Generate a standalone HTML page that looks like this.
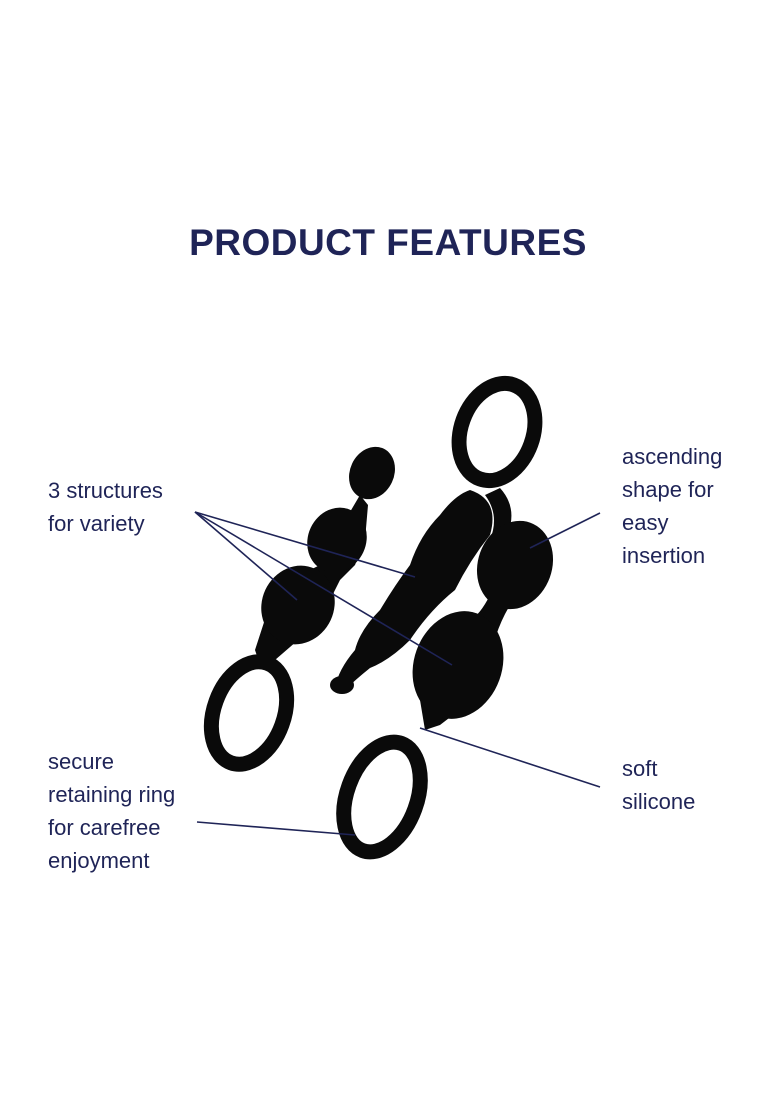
<!DOCTYPE html>
<html><head><meta charset="utf-8"><style>
html,body{margin:0;padding:0;background:#fff;}
body{width:776px;height:1102px;position:relative;overflow:hidden;font-family:"Liberation Sans",sans-serif;}
.t{position:absolute;left:0;width:776px;top:222px;text-align:center;font-weight:bold;font-size:37px;color:#1f2457;letter-spacing:0.5px;}
.l{position:absolute;font-size:22px;line-height:33px;color:#1f2457;}
svg{position:absolute;left:0;top:0;}
</style></head><body>
<div class="t">PRODUCT FEATURES</div>
<svg width="776" height="1102" viewBox="0 0 776 1102">
<g fill="#0a0a0a">
 <!-- left beaded plug -->
 <ellipse cx="372" cy="473" rx="22" ry="27" transform="rotate(25 372 473)"/>
 <path d="M360 495 L350 512 L340 515 L325 545 L320 565 L300 575 L268 610 L255 650 L260 665 L275 660 L312 628 L330 600 L340 580 L355 565 L365 540 L368 505 Z"/>
 <ellipse cx="337" cy="540" rx="29" ry="33" transform="rotate(25 337 540)"/>
 <ellipse cx="298" cy="605" rx="36" ry="40" transform="rotate(25 298 605)"/>
 <!-- middle twisted -->
 <path d="M470 490 Q500 500 490 535 Q470 560 455 590 Q430 610 410 640 Q390 660 370 668 Q355 680 345 690 L335 688 Q338 670 355 650 Q360 630 380 610 Q395 585 410 565 Q420 535 440 515 Q455 495 470 490 Z"/>
 <path d="M500 488 Q520 510 505 540 L490 540 Q500 515 485 495 Z"/>
 <ellipse cx="342" cy="685" rx="12" ry="9"/>
 <!-- right plug -->
 <ellipse cx="515" cy="565" rx="37" ry="45" transform="rotate(20 515 565)"/>
 <path d="M490 595 Q480 615 470 620 L440 640 Q420 670 420 700 L425 730 L440 725 Q475 700 490 660 Q495 630 510 605 Z"/>
 <ellipse cx="458" cy="665" rx="44" ry="55" transform="rotate(20 458 665)"/>
</g>
<g fill="none" stroke="#0a0a0a" stroke-width="15">
 <ellipse cx="249" cy="713" rx="35" ry="53" transform="rotate(20 249 713)"/>
 <ellipse cx="497" cy="432" rx="36" ry="50" transform="rotate(20 497 432)"/>
 <ellipse cx="382" cy="797" rx="35" ry="57" transform="rotate(20 382 797)"/>
</g>
<g stroke="#1f2457" stroke-width="1.6" fill="none">
 <line x1="195" y1="512" x2="415" y2="577"/>
 <line x1="195" y1="512" x2="297" y2="600"/>
 <line x1="195" y1="512" x2="452" y2="665"/>
 <line x1="600" y1="513" x2="530" y2="548"/>
 <line x1="600" y1="787" x2="420" y2="728"/>
 <line x1="197" y1="822" x2="355" y2="835"/>
</g>
</svg>
<div class="l" style="left:48px;top:474px">3 structures<br>for variety</div>
<div class="l" style="left:622px;top:440px">ascending<br>shape for<br>easy<br>insertion</div>
<div class="l" style="left:48px;top:745px">secure<br>retaining ring<br>for carefree<br>enjoyment</div>
<div class="l" style="left:622px;top:752px">soft<br>silicone</div>
</body></html>
